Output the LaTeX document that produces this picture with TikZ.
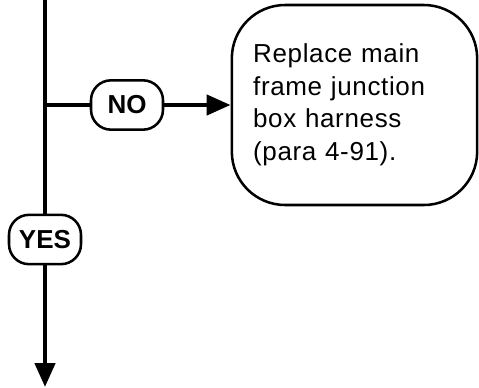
\documentclass[tikz,border=0pt]{standalone}
\usepackage{fontspec}
\setmainfont{Liberation Sans}
\newfontfamily\stepfont[LetterSpace=2.5]{Liberation Sans}
\usetikzlibrary{arrows.meta}
\begin{document}
\begin{tikzpicture}[x=0.75pt, y=-0.75pt,
    >={Triangle[length=18pt, width=15pt]},
    flow/.style={line width=3.4pt},
    pill/.style={draw, fill=white, line width=1.9pt, rounded corners=15pt,
        minimum width=54pt, minimum height=37pt, inner sep=0pt,
        font=\fontsize{19.5}{22}\selectfont\bfseries},
    action/.style={draw, line width=1.9pt, rounded corners=40pt,
        minimum width=184pt, minimum height=150pt, inner xsep=15.75pt,
        text width=152pt, align=left,
        font=\stepfont\fontsize{19.5}{24.4}\selectfont}]
    \useasboundingbox (0,0) rectangle (479,387);
    % Decision labels
    \node[pill] (no) at (127,105) {NO};
    \node[pill] (yes) at (45,239.5) {YES};
    % Action box
    \node[action] (replace) at (354.5,105)
        {Replace main frame junction box harness (para 4-91).};
    % Main flow line
    \coordinate (top) at (45,0);
    \coordinate (split) at (45,105);
    \coordinate (bottom) at (45,387);
    \draw[flow] (top) -- (yes.north);
    \draw[flow, ->] (yes.south) -- (bottom);
    % Branch to action
    \draw[flow] (split) -- (no.west);
    \draw[flow, ->] (no.east) -- (replace.west);
\end{tikzpicture}
\end{document}
